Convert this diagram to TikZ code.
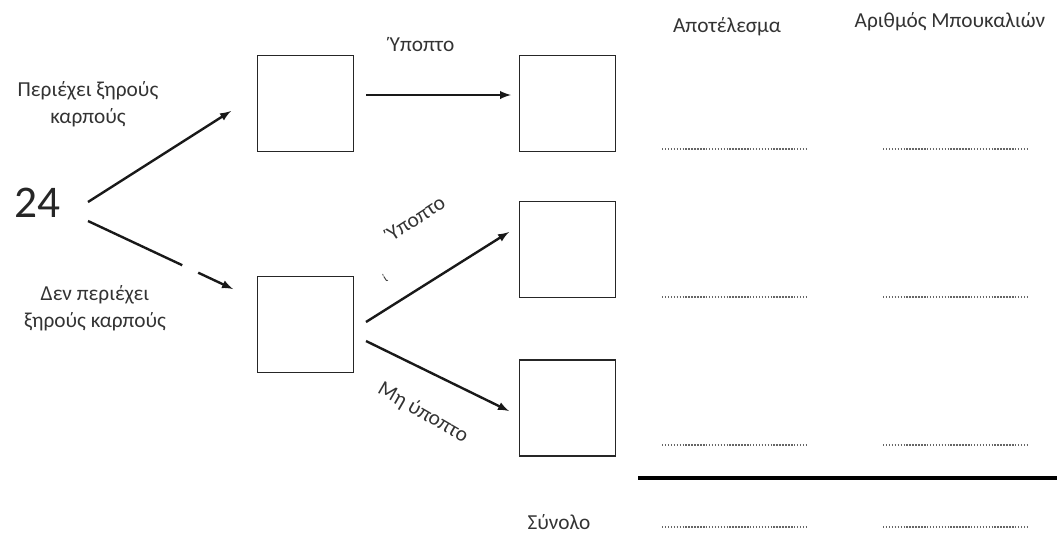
\documentclass[tikz,border=0pt]{standalone}
\usepackage{fontspec}
\setmainfont{Carlito}
\usepackage{tikz}
\usetikzlibrary{calc}

\begin{document}
\begin{tikzpicture}[x = 0.75pt, y = -0.75pt]
		\tikzset{> = latex}
		\tikzset{box/.style = {draw = black!85, line width = 1.4pt, minimum size = 72pt, inner sep = 0pt}}
		\tikzset{lbl/.style = {text = black!80, font = \fontsize{16}{20.5}\selectfont, align = center, inner sep = 0pt}}
		\tikzset{arr/.style = {->, line width = 1.8pt, black!90}}
		\tikzset{dots/.style = {black!60, line width = 1pt, dash pattern = on 1.1pt off 1.1pt}}
		\useasboundingbox (0,0) rectangle (1057,533);
		% start value
		\node[text = black!85, font = \fontsize{34}{34}\selectfont, inner sep = 0pt] (N) at (37,203){24};
		% boxes
		\node[box] (B1) at (305.5,103.5){};
		\node[box] (B2) at (305.5,324.5){};
		\node[box] (R1) at (567.5,103.5){};
		\node[box] (R2) at (567.5,249.5){};
		\node[box] (R3) at (567.5,408){};
		% arrow ends
		\coordinate (S1) at (88,202);
		\coordinate (E1) at (231,111);
		\coordinate (S2) at (88,221);
		\coordinate (E2) at (233,289);
		\coordinate (S3) at (366,95);
		\coordinate (E3) at (511,95);
		\coordinate (S4) at (366,322);
		\coordinate (E4) at (509,232);
		\coordinate (S5) at (366,341);
		\coordinate (E5) at (509,411);
		\draw[arr] (S1) to (E1);
		\draw[line width = 1.8pt, black!90] (S2) to ($(S2)!0.65!(E2)$);
		\draw[arr] ($(S2)!0.76!(E2)$) to (E2);
		\draw[arr] (S3) to (E3);
		\draw[arr] (S4) to (E4);
		\draw[arr] (S5) to (E5);
		% labels
		\node[lbl] (L1) at (88,104){Περιέχει ξηρούς\\καρπούς};
		\node[lbl] (L2) at (95,308){Δεν περιέχει\\ξηρούς καρπούς};
		\node[lbl] (L3) at (422,45){Ύποπτο};
		\node[lbl, rotate = 33] (L4) at (416,218){Ύποπτο};
		\node[lbl, rotate = 33, font = \fontsize{9}{9}\selectfont] (L5) at (385,278){ί};
		\node[lbl, rotate = -30] (L6) at (423,413){Μη ύποπτο};
		\node[lbl] (H1) at (727,27){Αποτέλεσμα};
		\node[lbl] (H2) at (950,22){Αριθμός Μπουκαλιών};
		\node[lbl] (T) at (559,522){Σύνολο};
		% result rows
		\foreach \y in {149,297,445,527}{
			\draw[dots] (662,\y) to (807,\y);
			\draw[dots] (883,\y) to (1028,\y);
		}
		\draw[line width = 3pt] (638,478) to (1057,478);
	\end{tikzpicture}
\end{document}
